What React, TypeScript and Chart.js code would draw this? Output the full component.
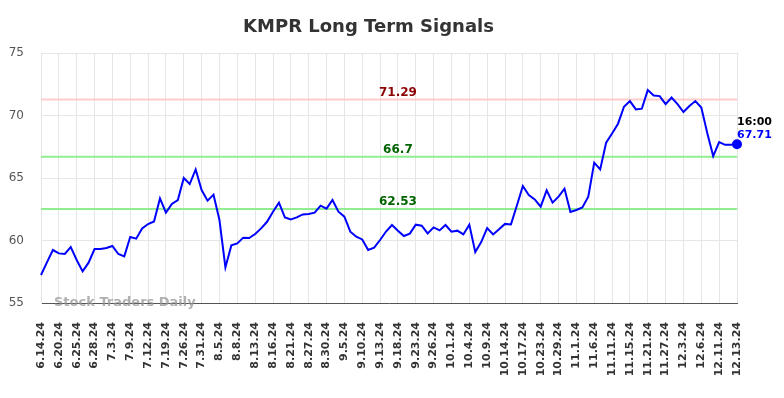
import React, { useEffect, useRef } from "react";
import { Chart, registerables } from "chart.js";

Chart.register(...registerables);

const chartTitle = "KMPR Long Term Signals";

const tickLabels: string[] = [
  "6.14.24", "6.20.24", "6.25.24", "6.28.24", "7.3.24", "7.9.24", "7.12.24", "7.19.24",
  "7.26.24", "7.31.24", "8.5.24", "8.8.24", "8.13.24", "8.16.24", "8.21.24", "8.27.24",
  "8.30.24", "9.5.24", "9.10.24", "9.13.24", "9.18.24", "9.23.24", "9.26.24", "10.1.24",
  "10.4.24", "10.9.24", "10.14.24", "10.17.24", "10.23.24", "10.29.24", "11.1.24", "11.6.24",
  "11.11.24", "11.15.24", "11.21.24", "11.27.24", "12.3.24", "12.6.24", "12.11.24", "12.13.24",
];

// points between consecutive tick labels
const pointsPerTick = 3;

const prices: number[] = [
  57.24, 58.25, 59.24, 58.97, 58.92, 59.48, 58.44, 57.53, 58.23, 59.32,
  59.32, 59.4, 59.56, 58.92, 58.73, 60.28, 60.15, 60.97, 61.32, 61.53,
  63.37, 62.23, 62.92, 63.24, 65.0, 64.52, 65.69, 64.04, 63.19, 63.67,
  61.64, 57.85, 59.61, 59.77, 60.23, 60.2, 60.52, 60.97, 61.5, 62.3,
  63.03, 61.85, 61.69, 61.85, 62.09, 62.12, 62.23, 62.79, 62.55, 63.24,
  62.31, 61.91, 60.71, 60.31, 60.09, 59.24, 59.43, 60.04, 60.72, 61.24,
  60.79, 60.36, 60.55, 61.27, 61.19, 60.57, 61.05, 60.81, 61.24, 60.71,
  60.79, 60.49, 61.27, 59.08, 59.88, 61.0, 60.49, 60.9, 61.33, 61.29,
  62.8, 64.36, 63.64, 63.29, 62.71, 64.01, 63.03, 63.51, 64.15, 62.28,
  62.44, 62.65, 63.51, 66.23, 65.69, 67.83, 68.57, 69.35, 70.71, 71.16,
  70.49, 70.55, 72.04, 71.61, 71.56, 70.92, 71.45, 70.92, 70.28, 70.76,
  71.16, 70.65, 68.6, 66.76, 67.88, 67.66, 67.66, 67.71,
];

const signalLevels: number[] = [71.29, 66.7, 62.53];
const signalLineColors: string[] = ["#ffcccc", "#90ee90", "#90ee90"];
const signalTextColors: string[] = ["#8b0000", "#006400", "#006400"];
const signalLabelIndex = 60;

const lastTimeLabel = "16:00";
const watermark = "Stock Traders Daily";

const yMin = 55;
const yMax = 75;
const yStep = 5;

const categories: string[] = prices.map((_, i) =>
  i % pointsPerTick === 0 ? tickLabels[i / pointsPerTick] ?? "" : ""
);

const FONT = "DejaVu Sans";

const signalsPlugin = {
  id: "signals",
  beforeDatasetsDraw(chart: any) {
    const { ctx, chartArea, scales } = chart;
    const y = scales.y;
    ctx.save();
    signalLevels.forEach((lvl, i) => {
      const py = y.getPixelForValue(lvl);
      ctx.strokeStyle = signalLineColors[i];
      ctx.lineWidth = 2;
      ctx.beginPath();
      ctx.moveTo(chartArea.left, py);
      ctx.lineTo(chartArea.right, py);
      ctx.stroke();
    });
    // watermark
    ctx.font = `bold 13px ${FONT}`;
    ctx.fillStyle = "rgba(150,150,150,0.75)";
    ctx.textAlign = "left";
    ctx.textBaseline = "alphabetic";
    ctx.fillText(watermark, chartArea.left + 13, chartArea.bottom + 2.5);
    ctx.restore();
  },
  afterDatasetsDraw(chart: any) {
    const { ctx, scales } = chart;
    const x = scales.x;
    const y = scales.y;
    ctx.save();
    ctx.font = `bold 12px ${FONT}`;
    ctx.textAlign = "center";
    ctx.textBaseline = "alphabetic";
    const lx = x.getPixelForValue(signalLabelIndex);
    signalLevels.forEach((lvl, i) => {
      const py = y.getPixelForValue(lvl);
      ctx.fillStyle = signalTextColors[i];
      ctx.fillText(String(lvl), lx, py - 3.5);
    });
    const li = prices.length - 1;
    const px = x.getPixelForValue(li);
    const py = y.getPixelForValue(prices[li]);
    ctx.font = `bold 11px ${FONT}`;
    ctx.textAlign = "left";
    ctx.fillStyle = "#000";
    ctx.fillText(lastTimeLabel, px, py - 19.5);
    ctx.fillStyle = "#0000ff";
    ctx.fillText(prices[li].toFixed(2), px, py - 6.5);
    ctx.restore();
  },
};

export default function App() {
  const ref = useRef<HTMLCanvasElement>(null);
  useEffect(() => {
    document.body.style.margin = "0";
    const last = prices.length - 1;
    const chart = new Chart(ref.current!, {
      type: "line",
      data: {
        labels: categories,
        datasets: [
          {
            data: prices,
            borderColor: "#0000ff",
            backgroundColor: "#0000ff",
            borderWidth: 2,
            tension: 0,
            pointRadius: (c: any) => (c.dataIndex === last ? 4 : 0),
            pointHoverRadius: 0,
          },
        ],
      },
      options: {
        responsive: false,
        animation: false,
        devicePixelRatio: 1,
        layout: { padding: { left: 0, right: 47, top: 0, bottom: 0 } },
        plugins: {
          legend: { display: false },
          tooltip: { enabled: false },
          title: {
            display: true,
            text: chartTitle,
            color: "#333",
            font: { family: FONT, size: 18, weight: "bold" },
            padding: { top: 17, bottom: 14.5 },
          },
        },
        scales: {
          x: {
            type: "category",
            afterFit: (s: any) => {
              s.height = 95;
            },
            grid: { color: "#e6e6e6", lineWidth: 1, drawTicks: false },
            border: { color: "#555", width: 1 },
            ticks: {
              autoSkip: false,
              maxRotation: 90,
              minRotation: 90,
              padding: 19,
              color: "#333",
              font: { family: FONT, size: 11, weight: "bold" },
              callback: (v: any, i: number) => (categories[i] ? categories[i] : null),
            },
          },
          y: {
            min: yMin,
            max: yMax,
            afterFit: (s: any) => {
              s.width = 41;
            },
            grid: { color: "#e6e6e6", lineWidth: 1, drawTicks: false },
            border: { color: "#e6e6e6" },
            ticks: {
              stepSize: yStep,
              padding: 17,
              color: "#555",
              font: { family: FONT, size: 12 },
            },
          },
        },
      },
      plugins: [signalsPlugin],
    });
    return () => chart.destroy();
  }, []);
  return (
    <div style={{ width: 784, height: 398 }}>
      <canvas ref={ref} width={784} height={398} />
    </div>
  );
}
